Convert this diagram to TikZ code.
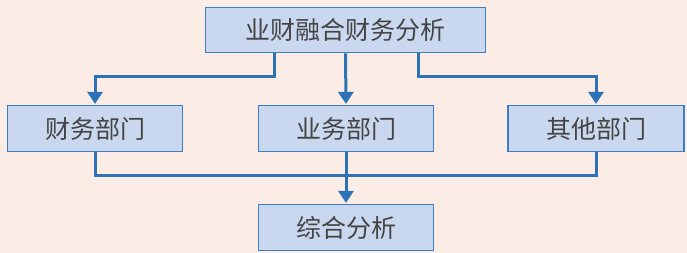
\documentclass[tikz,border=0pt]{standalone}
\usepackage{fontspec}
\setmainfont{Noto Sans CJK SC}
\usetikzlibrary{arrows.meta}
\definecolor{bgc}{HTML}{FBEDE5}
\definecolor{boxfill}{HTML}{C9D8EF}
\definecolor{boxline}{HTML}{3C7EC2}
\definecolor{linec}{HTML}{2B72B6}
\definecolor{txt}{HTML}{444444}
\tikzset{
  box/.style={draw=boxline, fill=boxfill, line width=1.6pt, inner sep=0pt,
    font=\fontsize{25}{25}\selectfont, text=txt},
  conn/.style={draw=linec, line width=3pt},
  arr/.style={conn, -{Triangle[length=12pt,width=15pt]}, shorten >=0.8pt},
}
\begin{document}
\begin{tikzpicture}[x=1pt,y=-1pt]
\fill[bgc] (0,0) rectangle (687,253);
\useasboundingbox (0,0) rectangle (687,253);
\node[box, minimum width=280pt, minimum height=45pt] (top) at (345.5,30) {业财融合财务分析};
\node[box, minimum width=175pt, minimum height=46pt] (fin) at (95,128.5) {财务部门};
\node[box, minimum width=175pt, minimum height=46pt] (biz) at (346,128.5) {业务部门};
\node[box, minimum width=176pt, minimum height=46pt] (oth) at (596,128.5) {其他部门};
\node[box, minimum width=175pt, minimum height=46pt] (sum) at (346,227.5) {综合分析};
\coordinate (tl) at (274,77);
\coordinate (tr) at (418,77);
\coordinate (bj) at (346,176);
\draw[arr] (top.south -| tl) |- (tl -| fin) -- (fin.north);
\draw[arr] (top.south -| tr) |- (tr -| oth) -- (oth.north);
\draw[arr] (top.south) -- (biz.north);
\draw[conn] (fin.south) |- (bj) -| (oth.south);
\draw[arr] (biz.south) -- (sum.north);
\end{tikzpicture}
\end{document}
